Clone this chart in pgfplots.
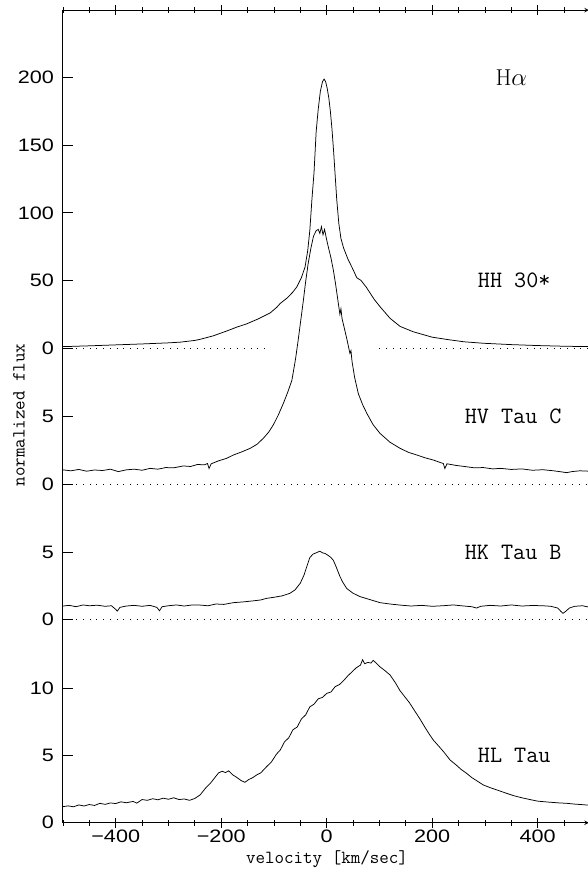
\documentclass[border=0pt]{standalone}
\usepackage{fontspec}
\usepackage{pgfplots}
\pgfplotsset{compat=1.18}
\newfontfamily\tickfont{Liberation Sans}
\newcommand{\tkf}{\tickfont\fontsize{18}{18}\selectfont}
\newcommand{\lbf}{\ttfamily\fontsize{23.5}{24}\selectfont}
\newcommand{\axf}{\ttfamily\fontsize{18.5}{19}\selectfont}
\pgfplotsset{
  spec/.style={
    x=0.5275pt, xmin=-500, xmax=497,
    clip=false,
    axis y line=left,
    axis line style={-, line width=1pt, black},
    tick style={black, line width=0.8pt},
    major tick length=10pt, minor tick length=6pt,
    tick align=inside,
    xtick={-400,-200,0,200,400},
    minor xtick={-500,-450,...,450},
    yticklabel style={font=\tkf, xscale=1.2, xshift=-4pt},
    xticklabel style={font=\tkf, xscale=1.2, yshift=1pt},
  },
  curve/.style={black, line width=0.75pt, no marks},
  zline/.style={black, line width=0.7pt, dash pattern=on 0.9pt off 5.8pt, no marks},
}
\begin{document}
\begin{tikzpicture}
\useasboundingbox (0pt,0pt) rectangle (588pt,869pt);

% ---------- HL Tau (bottom panel) ----------
\begin{axis}[spec, at={(326.7pt,46.3pt)}, anchor=origin,
  y=13.47pt, ymin=0, ymax=13.56,
  axis x line=bottom,
  xticklabels={−400,−200,0,200,400},
  ytick={0,5,10}, yticklabels={0,5,10}]
\addplot[curve] coordinates {
(-500,1.19) (-490,1.25) (-480,1.18) (-470,1.32) (-460,1.24) (-450,1.35) (-440,1.28)
(-430,1.44) (-420,1.36) (-410,1.47) (-400,1.42) (-390,1.55) (-380,1.48) (-367,1.58)
(-360,1.45) (-350,1.72) (-340,1.66) (-330,1.78) (-320,1.70) (-310,1.82) (-300,1.74)
(-290,1.85) (-280,1.72) (-270,1.76) (-260,1.66) (-250,1.80) (-240,2.06) (-230,2.55)
(-220,2.95) (-212,3.35) (-205,3.70) (-198,3.82) (-192,3.72) (-186,3.85) (-178,3.55)
(-170,3.35) (-162,3.12) (-155,3.00) (-148,3.20) (-140,3.35) (-133,3.54) (-125,3.70)
(-114,4.16) (-105,4.50) (-95,5.10) (-88,5.40) (-80,6.00) (-72,6.30) (-64,6.90)
(-56,7.10) (-48,7.70) (-40,8.00) (-32,8.60) (-24,8.80) (-16,9.20) (-8,9.30) (0,9.60)
(8,9.70) (16,10.10) (24,10.25) (32,10.55) (40,10.90) (48,11.20) (56,11.50) (64,11.70)
(68,12.10) (72,11.80) (78,11.90) (84,11.85) (88,12.05) (94,11.85) (100,11.60)
(110,11.30) (120,10.97) (130,10.40) (139,9.80) (148,9.35) (157,8.90) (166,8.35)
(176,7.75) (186,7.10) (194,6.60) (202,6.14) (212,5.70) (222,5.25) (234,4.65)
(245,4.30) (255,3.95) (265,3.67) (275,3.35) (285,3.10) (297,2.80) (310,2.60)
(325,2.40) (341,2.18) (355,2.00) (370,1.85) (385,1.72) (400,1.60) (420,1.53)
(440,1.47) (455,1.44) (470,1.38) (485,1.34) (497,1.30)
};
\node[anchor=west, font=\lbf] at (axis cs:280,5) {HL Tau};
\end{axis}

% ---------- HK Tau B ----------
\begin{axis}[spec, at={(326.7pt,249.5pt)}, anchor=origin,
  y=13.47pt, ymin=-1.522, ymax=8.872,
  axis x line=none,
  ytick={0,5}, yticklabels={0,5}]
\addplot[zline] coordinates {(-500,0) (497,0)};
\addplot[curve] coordinates {
(-500,1.00) (-488,1.05) (-475,0.95) (-462,1.08) (-450,1.02) (-435,1.06) (-420,0.98)
(-408,1.02) (-400,0.75) (-397,0.62) (-392,0.90) (-380,1.00) (-365,1.05) (-350,0.98)
(-335,1.05) (-322,0.90) (-317,0.65) (-312,0.95) (-300,1.02) (-285,1.08) (-270,1.00)
(-255,1.08) (-240,1.07) (-225,1.02) (-210,1.15) (-195,1.12) (-177,1.25) (-160,1.30)
(-140,1.38) (-125,1.45) (-114,1.57) (-100,1.65) (-85,1.75) (-70,1.94) (-60,2.20)
(-50,2.70) (-43,3.30) (-38,3.90) (-32,4.60) (-26,4.85) (-20,4.95) (-13,5.07)
(-8,4.95) (-3,4.90) (3,4.75) (8,4.60) (12.5,4.40) (18,3.90) (22,3.50) (25,3.20)
(30,2.80) (38,2.30) (50,1.95) (63,1.70) (80,1.50) (101,1.25) (120,1.15) (139,1.07)
(160,1.00) (180,1.05) (200,0.98) (220,1.02) (240,1.08) (260,1.00) (275,0.95)
(284,0.85) (292,0.98) (310,1.05) (330,1.00) (350,1.08) (370,1.00) (390,1.04)
(410,1.02) (425,0.98) (438,0.85) (444,0.60) (448,0.46) (453,0.60) (460,0.85)
(470,0.98) (485,1.02) (497,0.92)
};
\node[anchor=west, font=\lbf] at (axis cs:255,5) {HK Tau B};
\end{axis}

% ---------- HV Tau C ----------
\begin{axis}[spec, at={(326.7pt,385pt)}, anchor=origin,
  y=13.47pt, ymin=-1.188, ymax=9.206,
  axis x line=none,
  ytick={0,5}, yticklabels={0,5}]
\addplot[zline] coordinates {(-500,0) (497,0)};
\addplot[curve] coordinates {
(-500,1.05) (-485,0.98) (-470,1.08) (-455,0.95) (-440,1.04) (-425,1.00) (-410,1.10)
(-395,0.92) (-380,1.05) (-365,1.10) (-350,1.02) (-335,1.16) (-320,1.10) (-305,1.22)
(-290,1.20) (-272,1.34) (-258,1.30) (-245,1.45) (-232,1.42) (-226,1.52) (-223,1.15)
(-219,1.50) (-205,1.72) (-190,1.90) (-177,2.15) (-160,2.40) (-145,2.65) (-132,2.95)
(-120,3.40) (-110,3.85) (-101,4.40) (-92,5.10) (-82,6.00) (-74,6.80) (-66,7.70)
(-59,9.30) (-54,10.70) (-49,12.20) (-44,13.70) (-40,15.00) (-35,16.40) (-30,17.50)
(-25,18.40) (-20,18.80) (-16,18.90) (-13,18.60) (-10,19.10) (-7,18.50) (-4,18.90)
(-1,18.30) (3,17.60) (8,16.80) (12.5,15.90) (17,14.80) (21,13.70) (25,12.60)
(27,13.00) (29,12.30) (32,11.80) (38,10.80) (44,9.70) (46,9.90) (48,9.10) (53,7.90)
(60,6.70) (68,5.90) (76,5.25) (88,4.40) (101,3.76) (120,3.10) (139,2.65) (155,2.35)
(171,2.15) (186,1.95) (202,1.78) (215,1.60) (221,1.52) (224,1.15) (228,1.50)
(245,1.38) (265,1.28) (280,1.20) (297,1.22) (315,1.12) (330,1.16) (350,1.08)
(370,1.12) (390,1.02) (410,1.06) (430,0.98) (445,0.90) (455,0.84) (465,0.92)
(480,0.98) (497,0.95)
};
\node[anchor=west, font=\lbf] at (axis cs:255,5) {HV Tau C};
\end{axis}

% ---------- HH 30* (top panel) ----------
\begin{axis}[spec, at={(326.7pt,521pt)}, anchor=origin,
  y=1.3515pt, ymin=-8.879, ymax=250,
  axis x line=top,
  xticklabels={},
  ytick={0,50,100,150,200}, yticklabels={0,50,100,150,200}]
\addplot[zline] coordinates {(-500,0) (-110,0)};
\addplot[zline] coordinates {(100,0) (497,0)};
\addplot[curve] coordinates {
(-500,1.0) (-450,1.6) (-400,2.3) (-350,3.0) (-300,3.8) (-278,4.3) (-250,5.6)
(-240,6.4) (-215,9.0) (-190,12.5) (-170,15.5) (-152,17.8) (-130,21.5) (-107,26)
(-95,30) (-88,33) (-75,37) (-65,41) (-57,45) (-48,52) (-41,60) (-36,72) (-32,87)
(-28,110) (-24,130) (-20,160) (-16,177) (-12,190) (-8,197) (-5,199) (-2,197)
(1,192) (4,185) (7,175) (10,162) (13,146) (16,128) (19,110) (23,92) (27,81)
(32,74) (40,66) (50,58) (57,52) (65,50) (75,45) (90,36) (101,30.6) (120,22)
(139,16) (164,12) (200,8) (230,6.2) (260,4.6) (297,3.5) (350,2.5) (400,1.8)
(450,1.3) (497,1.0)
};
\node[anchor=west, font=\lbf] at (axis cs:280,50) {HH 30*};
\node[font=\fontsize{23}{24}\selectfont] at (axis cs:350,200) {H$\alpha$};
\end{axis}

\node[font=\axf] at (327pt,10pt) {velocity [km/sec]};
\node[font=\axf, rotate=90] at (19pt,454pt) {normalized flux};
\end{tikzpicture}
\end{document}
